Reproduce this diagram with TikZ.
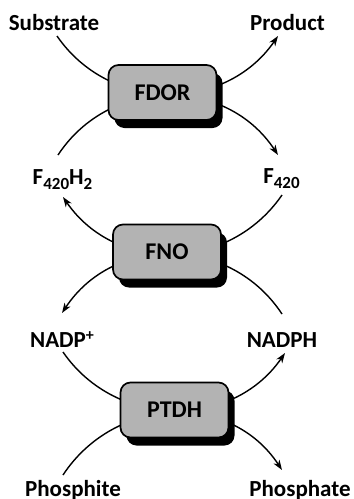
\documentclass[tikz,border=0pt]{standalone}
\usepackage{fontspec}
\setmainfont{Carlito}
\usetikzlibrary{arrows.meta,shadows}
\definecolor{boxgray}{RGB}{179,179,179}
\newcommand{\sbs}[1]{\raisebox{-5pt}{\fontsize{17}{17}\selectfont #1}}
\newcommand{\sps}[1]{\raisebox{7pt}{\fontsize{16}{16}\selectfont #1}}
\begin{document}
\begin{tikzpicture}[x=1pt,y=-1pt,
  lbl/.style={font=\fontsize{23}{27}\selectfont\bfseries, anchor=base, inner sep=0pt},
  enz/.style={draw=black, line width=1.7pt, fill=boxgray, rounded corners=10pt,
    minimum width=108pt, minimum height=55pt, inner sep=0pt,
    font=\fontsize{24}{28}\selectfont\bfseries,
    general shadow={fill=black, shadow xshift=6pt, shadow yshift=-8pt}},
  flux/.style={line width=1.4pt, -{Stealth[length=10pt,width=7pt,inset=3pt]}}]
\useasboundingbox (0,0) rectangle (354,499);
% labels
\node[lbl] (sub) at (54,30) {Substrate};
\node[lbl] (prod) at (287.5,30) {Product};
\node[lbl] (f4h) at (62.5,184) {F\sbs{420}H\sbs{2}};
\node[lbl] (f4) at (281.5,183) {F\sbs{420}};
\node[lbl] (nadp) at (62,347) {NADP\sps{+}};
\node[lbl] (nadph) at (282,347) {NADPH};
\node[lbl] (phi) at (73,496) {Phosphite};
\node[lbl] (pha) at (300,496) {Phosphate};
% connectors (pass behind the enzyme boxes)
\draw[flux] ([shift={(3,6)}]sub.base) .. controls +(53,77) and +(-53,77) .. ([shift={(-9.5,6)}]prod.base);
\draw[flux] ([shift={(-4.5,-29)}]f4h.base) .. controls +(52,-79) and +(-52,-79) .. ([shift={(-3.5,-28)}]f4.base);
\draw[flux] ([shift={(0.5,12)}]f4.base) .. controls +(-53,77) and +(53,77) .. ([shift={(0.5,13)}]f4h.base);
\draw[flux] ([shift={(0,-33)}]nadph.base) .. controls +(-52,-79) and +(52,-79) .. ([shift={(0,-34)}]nadp.base);
\draw[flux] ([shift={(1,5)}]nadp.base) .. controls +(53,77) and +(-53,77) .. ([shift={(3,6)}]nadph.base);
\draw[flux] ([shift={(-10,-21)}]phi.base) .. controls +(52,-79) and +(-52,-79) .. ([shift={(-18,-26)}]pha.base);
% enzymes
\node[enz] (fdor) at (162.5,92.5) {FDOR};
\node[enz] (fno) at (167,252) {FNO};
\node[enz] (ptdh) at (174.5,410) {PTDH};
\end{tikzpicture}
\end{document}
